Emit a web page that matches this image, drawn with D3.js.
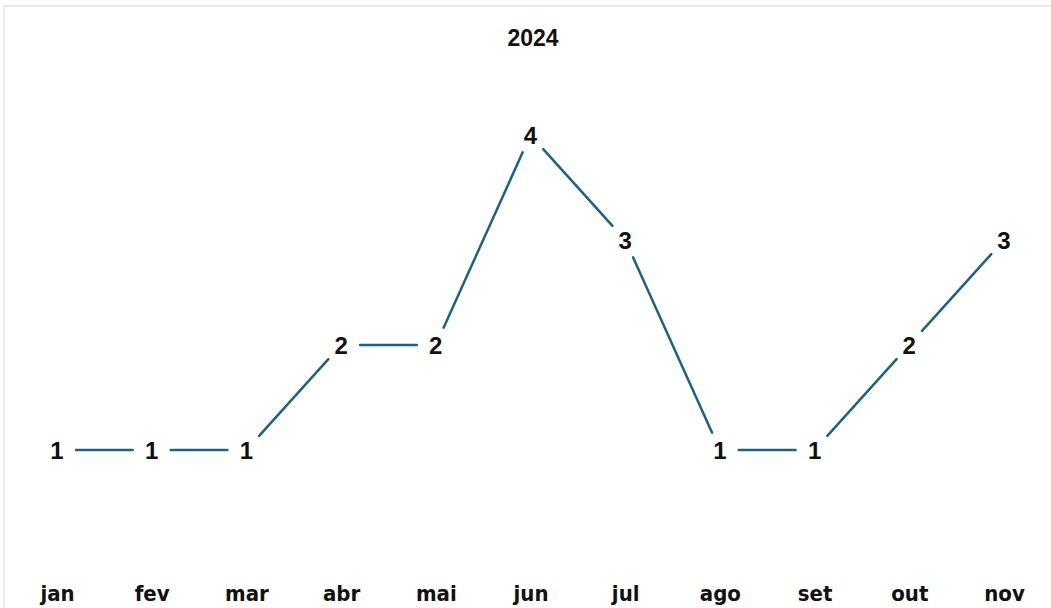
<!DOCTYPE html>
<html>
<head>
<meta charset="utf-8">
<script src="https://cdn.jsdelivr.net/npm/d3@7"></script>
<style>
  body { margin: 0; background: #fff; }
</style>
</head>
<body>
<div id="chart"></div>
<script>
const months = ["jan", "fev", "mar", "abr", "mai", "jun", "jul", "ago", "set", "out", "nov"];
const counts = [1, 1, 1, 2, 2, 4, 3, 1, 1, 2, 3];
const title = "2024";

const width = 1051;
const height = 608;

const svg = d3.select("#chart")
              .append("svg")
              .attr("width", width)
              .attr("height", height);

// light frame of the chart area
svg.append("rect")
   .attr("x", 4).attr("y", 6)
   .attr("width", width + 20).attr("height", height + 20)
   .attr("fill", "#fff")
   .attr("stroke", "#e8e8e8")
   .attr("stroke-width", 2);

const x = d3.scalePoint().domain(months).range([57, 1004]);
const y = d3.scaleLinear().domain([0, 4]).range([555, 135]);

// line drawn as segments, trimmed so the value labels sit in a gap
const gap = 19;
const segs = d3.pairs(months.map((m, i) => ({ m, v: counts[i] })));
svg.selectAll("line.seg")
   .data(segs)
   .enter()
   .append("line")
   .attr("class", "seg")
   .each(function([a, b]) {
     const x1 = x(a.m), y1 = y(a.v), x2 = x(b.m), y2 = y(b.v);
     const len = Math.hypot(x2 - x1, y2 - y1);
     const ux = (x2 - x1) / len, uy = (y2 - y1) / len;
     d3.select(this)
       .attr("x1", x1 + ux * gap).attr("y1", y1 + uy * gap)
       .attr("x2", x2 - ux * gap).attr("y2", y2 - uy * gap);
   })
   .attr("stroke", "#21607f")
   .attr("stroke-width", 2.5)
   .attr("stroke-linecap", "round");

svg.selectAll("text.val")
   .data(counts)
   .enter()
   .append("text")
   .attr("class", "val")
   .attr("x", (d, i) => x(months[i]))
   .attr("y", d => y(d))
   .attr("dy", "0.36em")
   .attr("text-anchor", "middle")
   .attr("font-family", "'Liberation Sans', Arial, sans-serif")
   .attr("font-weight", "bold")
   .attr("font-size", 24)
   .attr("fill", "#111")
   .text(d => d);

const xAxis = svg.append("g")
   .attr("transform", "translate(0,601)")
   .call(d3.axisBottom(x).tickSize(0).tickPadding(0));
xAxis.select(".domain").remove();
xAxis.selectAll("text")
     .attr("dy", 0)
     .attr("font-family", "'DejaVu Sans Condensed', 'DejaVu Sans', sans-serif")
     .attr("font-stretch", "condensed")
     .attr("font-weight", "bold")
     .attr("font-size", 22)
     .attr("fill", "#111");

svg.append("text")
   .attr("x", 533).attr("y", 46)
   .attr("text-anchor", "middle")
   .attr("font-family", "'Liberation Sans', Arial, sans-serif")
   .attr("font-weight", "bold")
   .attr("font-size", 23)
   .attr("fill", "#111")
   .text(title);
</script>
</body>
</html>
